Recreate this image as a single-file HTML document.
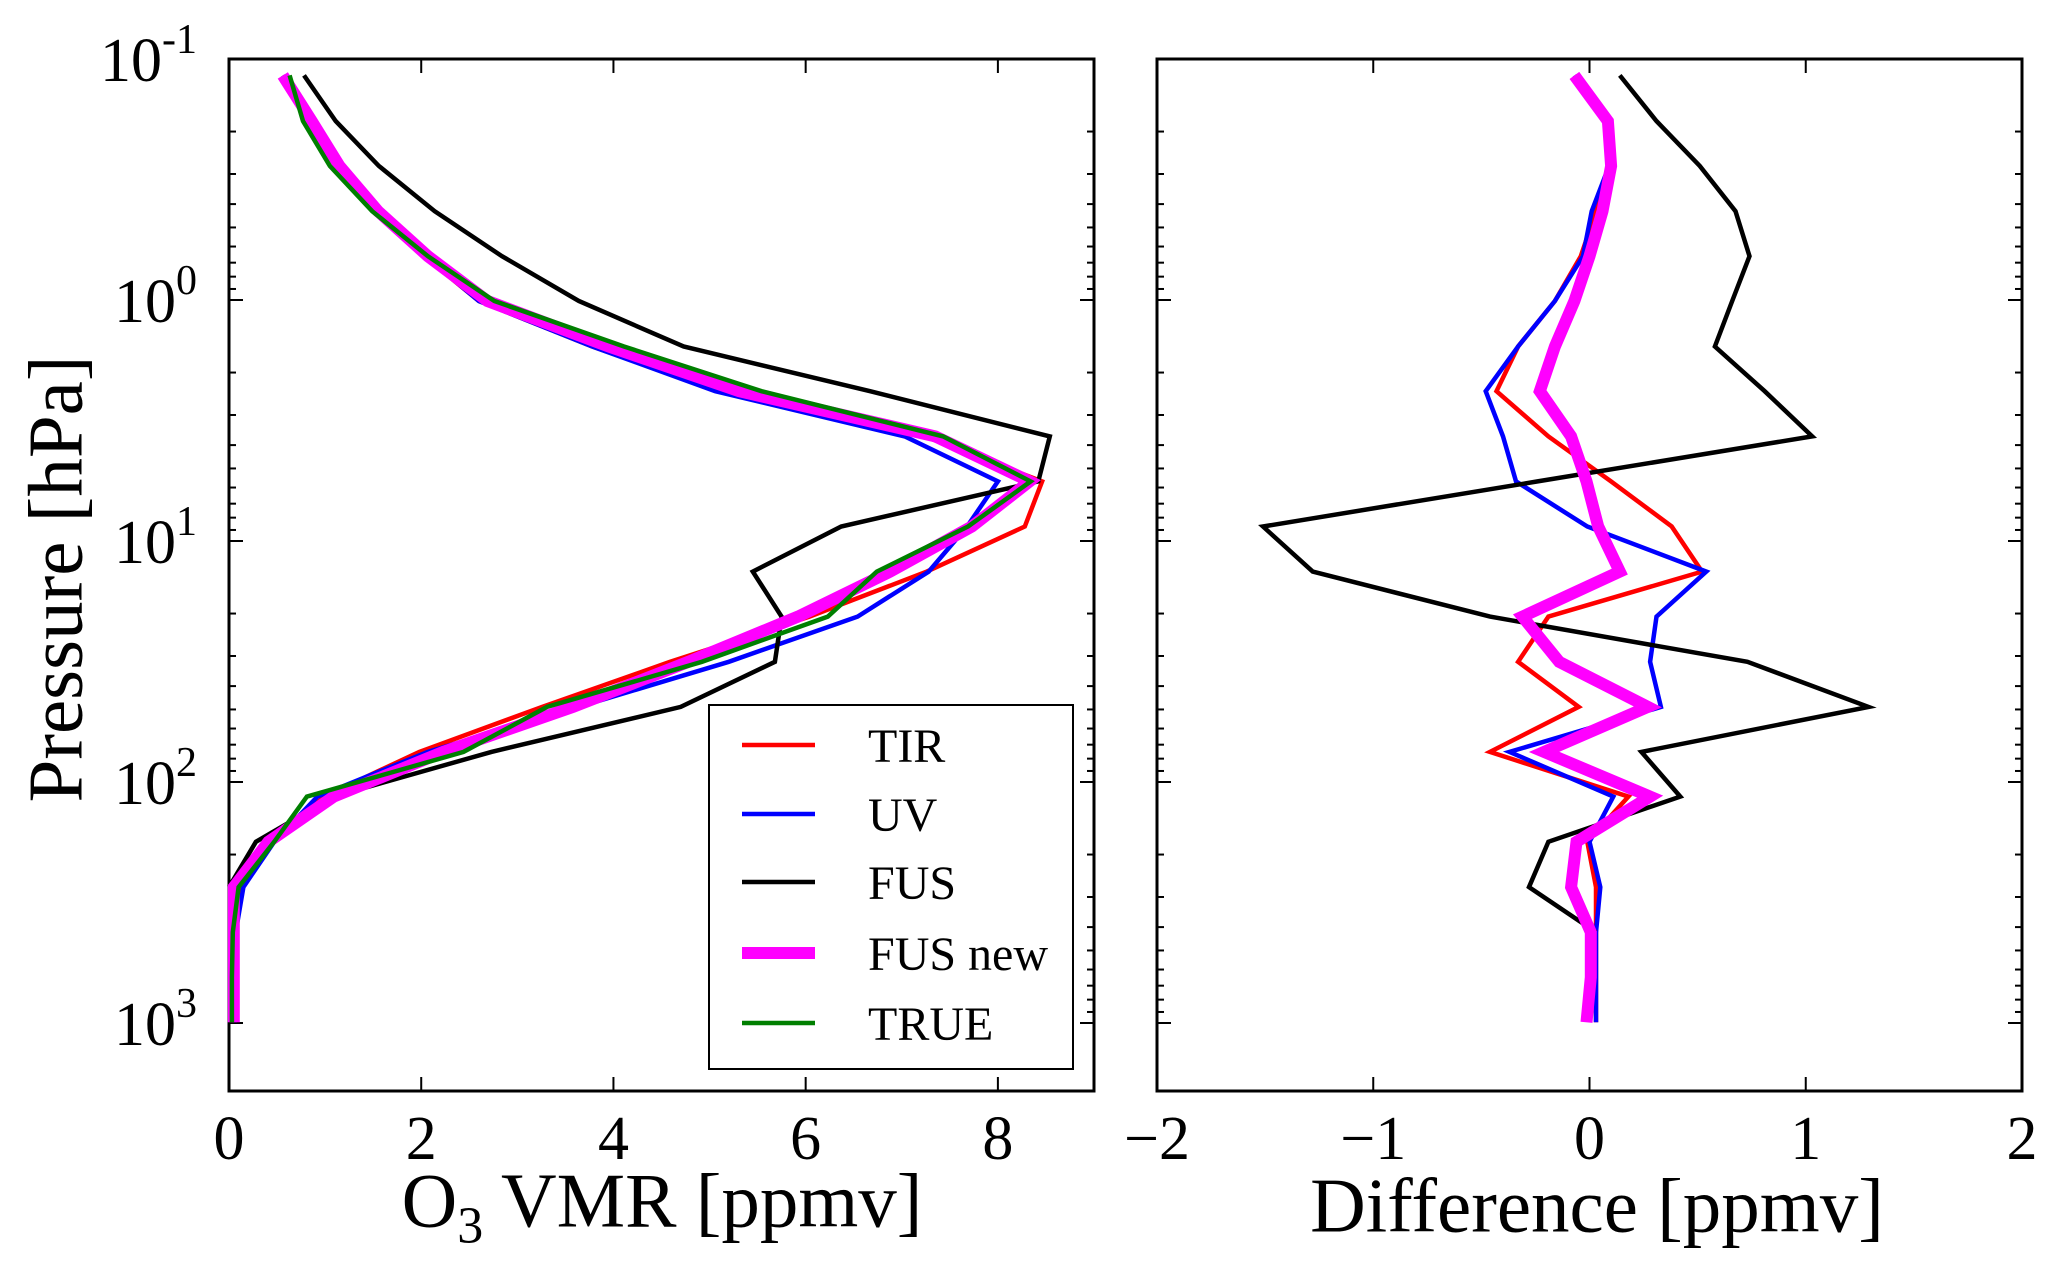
<!DOCTYPE html>
<html><head><meta charset="utf-8"><style>
html,body{margin:0;padding:0;background:#fff}
svg text{font-family:"Liberation Serif",serif;fill:#000}
</style></head><body>
<svg id="c" width="2067" height="1278" viewBox="0 0 2067 1278" xmlns="http://www.w3.org/2000/svg"></svg>
<script>
const levels=[0.117,0.181,0.278,0.428,0.658,1.01,1.56,2.39,3.68,5.66,8.71,13.4,20.6,31.7,48.8,75.0,115,177,273,420,646,993];
const trueVals=[0.63,0.77,1.05,1.49,2.07,2.76,4.11,5.54,7.43,8.34,7.69,6.74,6.23,4.92,3.31,2.44,0.81,0.47,0.10,0.04,0.03,0.03];
const tirVals=[0.56,0.85,1.14,1.52,2.03,2.60,3.78,5.11,7.24,8.46,8.28,7.26,6.04,4.59,3.26,1.98,0.99,0.46,0.13,0.07,0.06,0.06];
const uvVals=[0.56,0.85,1.14,1.50,2.04,2.60,3.78,5.06,7.03,8.00,7.68,7.28,6.54,5.20,3.64,2.07,0.92,0.47,0.15,0.07,0.06,0.06];
const fusVals=[0.78,1.11,1.56,2.14,2.84,3.64,4.73,6.67,8.54,8.42,6.37,5.45,5.75,5.68,4.70,2.73,1.09,0.28,0.0];
const fusNewVals=[0.56,0.86,1.15,1.55,2.07,2.69,3.95,5.31,7.35,8.33,7.73,6.88,5.92,4.78,3.58,2.23,1.09,0.41,0.05,0.05,0.05,0.05];
const tirDiff=[-0.07,0.08,0.09,0.03,-0.04,-0.16,-0.33,-0.43,-0.19,0.10,0.38,0.52,-0.19,-0.33,-0.05,-0.46,0.18,-0.01,0.03,0.03,0.03,0.03];
const uvDiff=[-0.07,0.08,0.09,0.01,-0.03,-0.16,-0.33,-0.48,-0.40,-0.34,-0.01,0.54,0.31,0.28,0.33,-0.37,0.11,0.0,0.05,0.03,0.03,0.03];
const fusDiff=[0.14,0.31,0.51,0.675,0.74,0.66,0.58,0.81,1.03,-0.24,-1.51,-1.28,-0.46,0.73,1.29,0.24,0.42,-0.19,-0.28,0.03];
const fusNewDiff=[-0.07,0.085,0.10,0.06,0.0,-0.07,-0.16,-0.23,-0.085,-0.014,0.04,0.14,-0.31,-0.14,0.27,-0.21,0.28,-0.06,-0.085,0.006,0.006,-0.014];
const leftXTicks=[0,2,4,6,8];
const rightXTicks=[-2,-1,0,1,2];
const yTickExp=[-1,0,1,2,3];

const NS="http://www.w3.org/2000/svg";
const svg=document.getElementById('c');
function el(t,a,p){const e=document.createElementNS(NS,t);for(const k in a)e.setAttribute(k,a[k]);(p||svg).appendChild(e);return e;}
const T=59,B=1091;
function yS(p){return T+(Math.log10(p)+1)*241;}
const L={x0:229,x1:1094,min:0,max:9};
const R={x0:1157,x1:2022,min:-2,max:2};
function xS(ax,v){return ax.x0+(v-ax.min)/(ax.max-ax.min)*(ax.x1-ax.x0);}

function drawAxes(ax,xt,name,showY){
  const g=el('g',{});
  
  
  for(const e of yTickExp){
    for(let m=1;m<10;m++){
      const p=m*Math.pow(10,e); const y=yS(p);
      if(y<T-0.5||y>B+0.5)continue;
      const len=m===1?14:7;
      el('line',{x1:ax.x0,x2:ax.x0+len,y1:y,y2:y,stroke:'#000','stroke-width':2},g);
      el('line',{x1:ax.x1,x2:ax.x1-len,y1:y,y2:y,stroke:'#000','stroke-width':2},g);
    }
    if(showY){
      const t=el('text',{x:ax.x0-32,y:yS(Math.pow(10,e))+22,'text-anchor':'end','font-size':62},g);
      
      
      t.textContent='10';
      const s=el('tspan',{dy:-28,'font-size':42},t);
      s.textContent=(e<0?'-':'')+Math.abs(e);
    }
  }
  for(const v of xt){
    const x=xS(ax,v);
    el('line',{x1:x,x2:x,y1:B,y2:B-14,stroke:'#000','stroke-width':2},g);
    el('line',{x1:x,x2:x,y1:T,y2:T+14,stroke:'#000','stroke-width':2},g);
    const t=el('text',{x:x,y:B+68,'text-anchor':'middle','font-size':62},g);
    
    
    t.textContent=v<0?'\u2212'+Math.abs(v):String(v);
  }
  el('rect',{x:ax.x0,y:T,width:ax.x1-ax.x0,height:B-T,fill:'none',stroke:'#000','stroke-width':3},g);
}
function line(ax,vals,color,w,name){
  let d='';
  vals.forEach((v,i)=>{d+=(i?'L':'M')+xS(ax,Math.max(v,ax.min)).toFixed(1)+' '+yS(levels[i]).toFixed(1);});
  const p=el('path',{d:d,fill:'none',stroke:color,'stroke-width':w,'stroke-linejoin':'miter'});
  
  
}
drawAxes(L,leftXTicks,'left-axes',true);
drawAxes(R,rightXTicks,'right-axes',false);
line(L,tirVals,'#ff0000',4.5,'tir-line');
line(L,uvVals,'#0000ff',4.5,'uv-line');
line(L,fusVals,'#000000',4.5,'fus-line');
line(L,fusNewVals,'#ff00ff',12,'fus-new-line');
line(L,trueVals,'#007f00',4.5,'true-line');
line(R,tirDiff,'#ff0000',4.5,'tir-diff-line');
line(R,uvDiff,'#0000ff',4.5,'uv-diff-line');
line(R,fusDiff,'#000000',4.5,'fus-diff-line');
line(R,fusNewDiff,'#ff00ff',12,'fus-new-diff-line');

const lg=el('g',{});


el('rect',{x:709,y:705,width:364,height:364,fill:'#fff',stroke:'#000','stroke-width':2},lg);
const names=['TIR','UV','FUS','FUS new','TRUE'];
const cols=['#ff0000','#0000ff','#000000','#ff00ff','#007f00'];
const ws=[4.5,4.5,4.5,12,4.5];
const ly=[745,814,882,953,1023];
names.forEach((n,i)=>{
  const g=el('g',{},lg);
  
  
  el('line',{x1:742,x2:815,y1:ly[i],y2:ly[i],stroke:cols[i],'stroke-width':ws[i]},g);
  const t=el('text',{x:868,y:ly[i]+17,'font-size':48},g);
  t.textContent=n;
});
</script>
<div style="position:absolute;left:0;top:0;width:2067px;height:1278px;pointer-events:none">
<div style="position:absolute;left:662px;top:1206px;transform:translate(-50%,-50%);font:77px 'Liberation Serif',serif;white-space:nowrap">O<sub style="font-size:52px">3</sub> VMR [ppmv]</div>
<div style="position:absolute;left:1597px;top:1206px;transform:translate(-50%,-50%);font:77px 'Liberation Serif',serif;white-space:nowrap">Difference [ppmv]</div>
<div style="position:absolute;left:56px;top:579px;transform:translate(-50%,-50%) rotate(-90deg);font:77px 'Liberation Serif',serif;white-space:nowrap">Pressure [hPa]</div>
</div>
</body></html>
